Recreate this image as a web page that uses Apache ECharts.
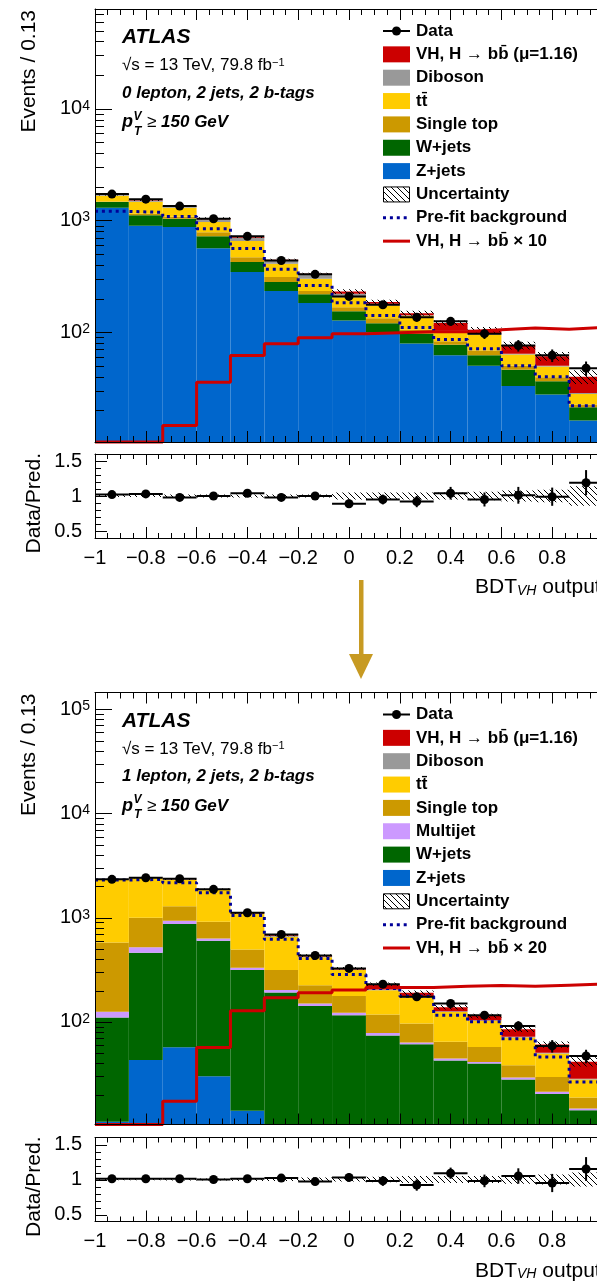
<!DOCTYPE html>
<html>
<head>
<meta charset="utf-8">
<script src="https://cdn.jsdelivr.net/npm/echarts@6.0.0/dist/echarts.min.js"></script>
<style>
html, body { margin: 0; padding: 0; background: #fff; }
#chart { width: 597px; height: 1281px; }
</style>
</head>
<body>
<div id="chart"></div>
<script>
const FONT = '"Liberation Sans", Arial, Helvetica, sans-serif';

// BDT_VH output bins (15 bins, width 0.133)
const binEdges = [-1, -0.8667, -0.7333, -0.6, -0.4667, -0.3333, -0.2, -0.0667, 0.0667, 0.2, 0.3333, 0.4667, 0.6, 0.7333, 0.8667, 1];

// ---- 0 lepton, 2 jets, 2 b-tags ----
const zjets0   = [1300, 897, 872, 565, 345, 233, 182, 127, 100, 79, 62, 50, 33, 27.7, 16.2];
const wjets0   = [160, 213, 164, 155, 79, 48, 36, 27, 20, 18, 15, 12, 13, 8.7, 5.1];
const stop0    = [20, 38, 40, 65, 45, 30, 15, 13, 13, 8, 6, 6.5, 4, 3.1, 1.2];
const ttbar0   = [185, 325, 224, 181, 184, 98, 68, 38, 40, 35, 17, 26.5, 13, 9.8, 5.5];
const diboson0 = [25, 30, 30, 60, 45, 25, 24, 16, 7, 2, 3, 2, 1, 0.7, 0.5];
const vh0      = [10, 15, 15, 18, 14, 10, 9, 10, 6, 6, 18, 8, 12, 11, 11.5];
const data0    = [1720, 1550, 1343, 1035, 720, 438, 329, 209, 176, 136, 125, 97, 76, 62, 47.6];
const dataErr0 = [41, 39, 37, 32, 27, 21, 18, 14, 13, 12, 11, 10, 9, 8, 7];
const prefit0  = [1205, 1180, 1086, 844, 561, 366, 262, 183, 141, 110, 86, 71, 50, 40, 22];
const signal0  = [6, 8, 14.6, 35.6, 61.8, 78.8, 89, 97, 99, 101, 101, 105, 109, 106, 110]; // VH x10
const ratio0    = [1.02, 1.03, 0.98, 1.0, 1.04, 0.98, 1.0, 0.89, 0.95, 0.92, 1.04, 0.95, 1.01, 0.99, 1.19];
const ratioErr0 = [0.02, 0.02, 0.03, 0.03, 0.04, 0.05, 0.05, 0.06, 0.07, 0.08, 0.09, 0.1, 0.12, 0.13, 0.18];
const unc0      = [0.015, 0.015, 0.02, 0.02, 0.02, 0.02, 0.02, 0.05, 0.05, 0.05, 0.05, 0.06, 0.08, 0.09, 0.14];

// ---- 1 lepton, 2 jets, 2 b-tags ----
const zjets1    = [11, 43, 57, 30, 14, 9, 6, 5, 4, 3, 3, 2, 1.5, 1, 0.8];
const wjets1    = [99, 417, 811, 570, 300, 182, 136, 111, 70, 58, 39.6, 37.8, 26.5, 19.3, 13.4];
const multijet1 = [15, 59, 65, 32, 16, 11, 8, 6, 4, 2.4, 1.9, 1.5, 1.3, 1, 0.5];
const stop1     = [454, 479, 358, 282, 166, 112, 75, 55, 40, 33, 20, 16, 9, 8.3, 4.1];
const ttbar1    = [1721, 1390, 1005, 927, 587, 342, 192, 137, 83, 75, 60, 44.5, 32.5, 20, 9.2];
const diboson1  = [20, 20, 20, 20, 15, 12, 6, 5, 4, 3, 2, 2, 1.2, 1, 0.5];
const vh1       = [10, 12, 14, 15, 12, 10, 10, 8, 24, 16, 12, 10, 13, 10, 13];
const data1     = [2335, 2416, 2365, 1871, 1115, 691, 434, 326, 230, 174, 150, 116, 91.5, 58.8, 47];
const dataErr1  = [48, 49, 49, 43, 33, 26, 21, 18, 15, 13, 12, 11, 10, 8, 7];
const prefit1   = [2300, 2330, 2163, 1733, 1052, 622, 406, 285, 209, 176, 116, 100, 69, 46, 26.5];
const signal1   = [6, 8, 17.3, 56.8, 127.6, 170, 190, 202, 214, 214, 220, 224, 220, 225, 230]; // VH x20
const ratio1    = [1.01, 1.01, 1.01, 1.0, 1.01, 1.02, 0.97, 1.03, 0.98, 0.92, 1.09, 0.98, 1.05, 0.95, 1.15];
const ratioErr1 = [0.02, 0.02, 0.02, 0.03, 0.03, 0.04, 0.05, 0.06, 0.07, 0.08, 0.08, 0.09, 0.11, 0.13, 0.17];
const unc1      = [0.01, 0.01, 0.015, 0.015, 0.02, 0.02, 0.03, 0.03, 0.04, 0.05, 0.05, 0.05, 0.06, 0.07, 0.1];

// axis ticks
const ratioMajors = [0.5, 1, 1.5];
const ratioMinors = [0.6, 0.7, 0.8, 0.9, 1.1, 1.2, 1.3, 1.4];

const COL = {
  vh: '#cc0000', dib: '#999999', tt: '#ffcc00', st: '#cc9900', mj: '#cc99ff',
  w: '#006600', z: '#0066cc', prefit: '#000099', sig: '#cc0000', arrow: '#c79a22'
};

function hatchFill() {
  const c = document.createElement('canvas');
  c.width = 6; c.height = 6;
  const g = c.getContext('2d');
  g.strokeStyle = '#000'; g.lineWidth = 1;
  g.beginPath();
  g.moveTo(0, 0); g.lineTo(6, 6);
  g.moveTo(-1, 5); g.lineTo(1, 7);
  g.moveTo(5, -1); g.lineTo(7, 1);
  g.stroke();
  return { image: c, repeat: 'repeat' };
}
const HATCH = hatchFill();

const panels = [
  {
    top: 9, height: 433, yMin: 10.4, yMax: 78000, dy: 0,
    region: '0 lepton, 2 jets, 2 b-tags',
    stack: [
      { name: 'Z+jets', color: COL.z, values: zjets0 },
      { name: 'W+jets', color: COL.w, values: wjets0 },
      { name: 'Single top', color: COL.st, values: stop0 },
      { name: 'ttbar', color: COL.tt, values: ttbar0 },
      { name: 'Diboson', color: COL.dib, values: diboson0 },
      { name: 'VH', color: COL.vh, values: vh0 }
    ],
    data: data0, dataErr: dataErr0, prefit: prefit0, signal: signal0,
    ratio: ratio0, ratioErr: ratioErr0, unc: unc0,
    legend: [
      ['data', 'Data'], ['box', 'VH, H \u2192 bb\u0304 (\u03bc=1.16)', COL.vh], ['box', 'Diboson', COL.dib],
      ['box', 'tt\u0304', COL.tt], ['box', 'Single top', COL.st], ['box', 'W+jets', COL.w],
      ['box', 'Z+jets', COL.z], ['hatch', 'Uncertainty'], ['dots', 'Pre-fit background'],
      ['line', 'VH, H \u2192 bb\u0304 \u00d7 10']
    ]
  },
  {
    top: 692.5, height: 432, yMin: 10.35, yMax: 145000, dy: 683.5,
    region: '1 lepton, 2 jets, 2 b-tags',
    stack: [
      { name: 'Z+jets', color: COL.z, values: zjets1 },
      { name: 'W+jets', color: COL.w, values: wjets1 },
      { name: 'Multijet', color: COL.mj, values: multijet1 },
      { name: 'Single top', color: COL.st, values: stop1 },
      { name: 'ttbar', color: COL.tt, values: ttbar1 },
      { name: 'Diboson', color: COL.dib, values: diboson1 },
      { name: 'VH', color: COL.vh, values: vh1 }
    ],
    data: data1, dataErr: dataErr1, prefit: prefit1, signal: signal1,
    ratio: ratio1, ratioErr: ratioErr1, unc: unc1,
    legend: [
      ['data', 'Data'], ['box', 'VH, H \u2192 bb\u0304 (\u03bc=1.16)', COL.vh], ['box', 'Diboson', COL.dib],
      ['box', 'tt\u0304', COL.tt], ['box', 'Single top', COL.st], ['box', 'Multijet', COL.mj],
      ['box', 'W+jets', COL.w], ['box', 'Z+jets', COL.z], ['hatch', 'Uncertainty'],
      ['dots', 'Pre-fit background'], ['line', 'VH, H \u2192 bb\u0304 \u00d7 20']
    ]
  }
];

function logMinors(min, max) {
  const out = [];
  for (let d = 1; d <= 1e6; d *= 10) {
    for (let m = 2; m <= 9; m++) {
      const v = m * d;
      if (v > min && v < max) out.push(v);
    }
  }
  return out;
}
function logMajors(min, max) {
  const out = [];
  for (let d = 1; d <= 1e6; d *= 10) if (d > min && d < max) out.push(d);
  return out;
}

// filled bins between lows and highs (lows of 0 go to the frame bottom)
function binRects(xi, yi, lows, highs, style, z) {
  return {
    type: 'custom', xAxisIndex: xi, yAxisIndex: yi, z: z || 2, silent: true,
    data: lows.map((lo, i) => [binEdges[i], binEdges[i + 1], lo, highs[i]]),
    encode: { x: [0, 1], y: 3 },
    renderItem(params, api) {
      const cs = params.coordSys, bottom = cs.y + cs.height;
      const lo = api.value(2), hi = api.value(3);
      const a = api.coord([api.value(0), hi]);
      const b = api.coord([api.value(1), hi]);
      const yBot = lo > 0 ? Math.min(api.coord([api.value(0), lo])[1], bottom) : bottom;
      const yTop = Math.max(a[1], cs.y);
      if (!(yBot > yTop)) return null;
      return {
        type: 'rect',
        shape: { x: a[0], y: yTop, width: b[0] - a[0], height: yBot - yTop },
        style: Object.assign({}, style)
      };
    }
  };
}

function dataPoints(xi, yi, vals, errs) {
  return {
    type: 'custom', xAxisIndex: xi, yAxisIndex: yi, z: 6, silent: true,
    data: vals.map((v, i) => [binEdges[i], binEdges[i + 1], v, errs[i]]),
    encode: { x: [0, 1], y: 2 },
    renderItem(params, api) {
      const x0 = api.value(0), x1 = api.value(1), v = api.value(2), e = api.value(3);
      const xc = (x0 + x1) / 2;
      const a = api.coord([x0, v]), b = api.coord([x1, v]), c = api.coord([xc, v]);
      const up = api.coord([xc, v + e]), dn = api.coord([xc, v - e]);
      return {
        type: 'group', children: [
          { type: 'line', shape: { x1: a[0], y1: a[1], x2: b[0], y2: b[1] }, style: { stroke: '#000', lineWidth: 2 } },
          { type: 'line', shape: { x1: c[0], y1: up[1], x2: c[0], y2: dn[1] }, style: { stroke: '#000', lineWidth: 2 } },
          { type: 'circle', shape: { cx: c[0], cy: c[1], r: 4.5 }, style: { fill: '#000' } }
        ]
      };
    }
  };
}

function stepLine(xi, yi, vals, floor, lineStyle) {
  const pts = [];
  vals.forEach((v, i) => {
    const y = Math.max(v, floor);
    pts.push([binEdges[i], y], [binEdges[i + 1], y]);
  });
  return {
    type: 'line', xAxisIndex: xi, yAxisIndex: yi, data: pts, symbol: 'none',
    clip: false, z: 4, silent: true, lineStyle
  };
}

function yTicks(xi, yi, majors, minors, majLen, minLen) {
  const data = majors.map(v => [v, 1]).concat(minors.map(v => [v, 0]));
  return {
    type: 'custom', xAxisIndex: xi, yAxisIndex: yi, z: 10, silent: true,
    data, encode: { y: 0 },
    renderItem(params, api) {
      const cs = params.coordSys;
      const y = Math.round(api.coord([-1, api.value(0)])[1]) + 0.5;
      const len = api.value(1) ? majLen : minLen;
      return { type: 'line', shape: { x1: cs.x, y1: y, x2: cs.x + len, y2: y }, style: { stroke: '#000', lineWidth: 1 } };
    }
  };
}

function fmtX(v) {
  if (Math.abs(v - 1) < 1e-9) return '';
  const r = Math.round(v * 10) / 10;
  if (r === 0) return '0';
  return (r < 0 ? '\u2212' : '') + Math.abs(r);
}
function logLabel(v) {
  const e = Math.log10(v), n = Math.round(e);
  return Math.abs(e - n) < 1e-6 ? '{b|10}{s|' + n + '}' : '';
}
function ratioLabel(v) {
  const r = Math.round(v * 10) / 10;
  return ratioMajors.indexOf(r) >= 0 ? String(r) : '';
}

const grids = [], xAxes = [], yAxes = [], series = [], graphics = [];

function xAxisPair(gi, isRatio) {
  const mk = (pos, labels) => ({
    type: 'value', gridIndex: gi, position: pos, min: -1, max: 1, interval: 0.2, z: 10,
    axisLine: { show: true, onZero: false, lineStyle: { color: '#000', width: 1 } },
    axisTick: { show: true, inside: true, length: 11, lineStyle: { color: '#000', width: 1 } },
    minorTick: { show: true, splitNumber: 4, length: isRatio ? 5 : 6, lineStyle: { color: '#000', width: 1 } },
    splitLine: { show: false }, minorSplitLine: { show: false },
    axisLabel: labels
      ? { show: true, formatter: fmtX, margin: 10, color: '#000', fontSize: 20, fontFamily: FONT }
      : { show: false }
  });
  xAxes.push(mk('bottom', isRatio), mk('top', false));
}

panels.forEach((p, k) => {
  const gMain = k * 2, gRatio = k * 2 + 1;
  const ratioTop = p.top + 445;
  grids.push({ left: 95, top: p.top, width: 508, height: p.height, outerBoundsMode: 'none' });
  grids.push({ left: 95, top: ratioTop, width: 508, height: 84, outerBoundsMode: 'none' });
  xAxisPair(gMain, false);
  xAxisPair(gRatio, true);
  yAxes.push({
    type: 'log', logBase: 10, gridIndex: gMain, min: p.yMin, max: p.yMax, z: 10,
    axisLine: { show: true, onZero: false, lineStyle: { color: '#000', width: 1 } },
    axisTick: { show: false }, splitLine: { show: false },
    axisLabel: {
      formatter: logLabel, margin: 5, color: '#000',
      rich: {
        b: { fontSize: 20, fontFamily: FONT, color: '#000', lineHeight: 20, verticalAlign: 'bottom' },
        s: { fontSize: 14, fontFamily: FONT, color: '#000', lineHeight: 14, padding: [0, 0, 12, 0], verticalAlign: 'top' }
      }
    }
  });
  yAxes.push({
    type: 'value', gridIndex: gRatio, min: 0.4, max: 1.6, interval: 0.1, z: 10,
    axisLine: { show: true, onZero: false, lineStyle: { color: '#000', width: 1 } },
    axisTick: { show: false }, splitLine: { show: false },
    axisLabel: { formatter: ratioLabel, margin: 13, color: '#000', fontSize: 20, fontFamily: FONT }
  });

  const xm = gMain * 2, xr = gRatio * 2;
  // stacked backgrounds + signal
  let base = p.data.map(() => 0);
  p.stack.forEach(cp => {
    const hi = base.map((b, i) => b + cp.values[i]);
    series.push(binRects(xm, gMain, base, hi, { fill: cp.color }));
    base = hi;
  });
  const total = base;
  series.push(binRects(xm, gMain, total.map((t, i) => t * (1 - p.unc[i])), total.map((t, i) => t * (1 + p.unc[i])), { fill: HATCH }, 3));
  series.push(stepLine(xm, gMain, p.prefit, 0, { color: COL.prefit, width: 3, type: [3, 3.9], cap: 'butt' }));
  series.push(stepLine(xm, gMain, p.signal, p.yMin, { color: COL.sig, width: 3 }));
  series.push(dataPoints(xm, gMain, p.data, p.dataErr));
  series.push(yTicks(xm, gMain, logMajors(p.yMin, p.yMax), logMinors(p.yMin, p.yMax), 17, 9));

  // ratio panel
  series.push(binRects(xr, gRatio, p.unc.map(u => 1 - u), p.unc.map(u => 1 + u), { fill: HATCH }, 3));
  series.push(dataPoints(xr, gRatio, p.ratio, p.ratioErr));
  series.push(yTicks(xr, gRatio, ratioMajors, ratioMinors, 12, 6));

  // texts
  const dy = p.dy;
  const t = (x, y, text, font, extra) => graphics.push(Object.assign({
    type: 'text', x, y, z: 20, silent: true,
    style: Object.assign({ text, font, fill: '#000', verticalAlign: 'middle' }, extra || {})
  }));
  graphics.push({
    type: 'text', x: 29, y: p.top + 1, rotation: Math.PI / 2, z: 20, silent: true,
    style: { text: 'Events / 0.13', font: '21px ' + FONT, fill: '#000', align: 'right', verticalAlign: 'middle' }
  });
  graphics.push({
    type: 'text', x: 34, y: ratioTop - 1, rotation: Math.PI / 2, z: 20, silent: true,
    style: { text: 'Data/Pred.', font: '21px ' + FONT, fill: '#000', align: 'right', verticalAlign: 'middle' }
  });
  t(122, 37.5 + dy, 'ATLAS', 'italic bold 21px ' + FONT);
  t(122, 65.5 + dy, '{n|\u221as = 13 TeV, 79.8 fb}{s|\u22121}', '17px ' + FONT, {
    rich: {
      n: { fontSize: 17, fontFamily: FONT, lineHeight: 17, verticalAlign: 'bottom' },
      s: { fontSize: 11, fontFamily: FONT, lineHeight: 11, padding: [0, 0, 9, 0], verticalAlign: 'top' }
    }
  });
  t(122, 93 + dy, p.region, 'italic bold 17px ' + FONT);
  t(122, 122.5 + dy, 'p', 'italic bold 18px ' + FONT);
  t(133.5, 116.5 + dy, 'V', 'italic bold 12px ' + FONT);
  t(134, 131.5 + dy, 'T', 'italic bold 12px ' + FONT);
  t(147, 122.5 + dy, '{r|\u2265 }{b|150 GeV}', '17px ' + FONT, {
    rich: {
      r: { fontSize: 17, fontFamily: FONT },
      b: { fontSize: 17, fontFamily: FONT, fontWeight: 'bold', fontStyle: 'italic' }
    }
  });
  // x-axis title
  t(475, ratioTop + 133.5, '{a|BDT}{v|VH}{a| output}', '21px ' + FONT, {
    rich: {
      a: { fontSize: 21, fontFamily: FONT, lineHeight: 21, verticalAlign: 'top' },
      v: { fontSize: 14, fontFamily: FONT, fontStyle: 'italic', lineHeight: 14, padding: [14, 0, 0, 0], verticalAlign: 'bottom' }
    }
  });

  // legend
  const ly0 = 31 + dy;
  p.legend.forEach((e, i) => {
    const y = ly0 + i * 23.35;
    const kind = e[0];
    if (kind === 'box') {
      graphics.push({ type: 'rect', z: 20, silent: true, shape: { x: 383, y: y - 8, width: 27, height: 16 }, style: { fill: e[2] } });
    } else if (kind === 'hatch') {
      graphics.push({ type: 'rect', z: 20, silent: true, shape: { x: 383.5, y: y - 7.5, width: 26, height: 15 }, style: { fill: HATCH, stroke: '#000', lineWidth: 1 } });
    } else if (kind === 'data') {
      graphics.push({ type: 'line', z: 20, silent: true, shape: { x1: 383, y1: y, x2: 410, y2: y }, style: { stroke: '#000', lineWidth: 2 } });
      graphics.push({ type: 'circle', z: 21, silent: true, shape: { cx: 396.5, cy: y, r: 4.5 }, style: { fill: '#000' } });
    } else if (kind === 'dots') {
      graphics.push({ type: 'line', z: 20, silent: true, shape: { x1: 383, y1: y, x2: 410, y2: y }, style: { stroke: COL.prefit, lineWidth: 3, lineDash: [3, 3.9] } });
    } else if (kind === 'line') {
      graphics.push({ type: 'line', z: 20, silent: true, shape: { x1: 383, y1: y, x2: 410, y2: y }, style: { stroke: COL.sig, lineWidth: 3 } });
    }
    t(416, y, e[1], 'bold 17px ' + FONT);
  });
});

// arrow between the two panels
graphics.push({ type: 'rect', z: 20, silent: true, shape: { x: 359, y: 580, width: 4.5, height: 76 }, style: { fill: COL.arrow } });
graphics.push({ type: 'polygon', z: 20, silent: true, shape: { points: [[349, 654], [373, 654], [361, 679]] }, style: { fill: COL.arrow } });

const chart = echarts.init(document.getElementById('chart'), null, { renderer: 'canvas' });
chart.setOption({
  animation: false,
  backgroundColor: '#fff',
  grid: grids,
  xAxis: xAxes,
  yAxis: yAxes,
  series,
  graphic: { elements: graphics }
});
window.addEventListener('resize', () => chart.resize());
</script>
</body>
</html>
